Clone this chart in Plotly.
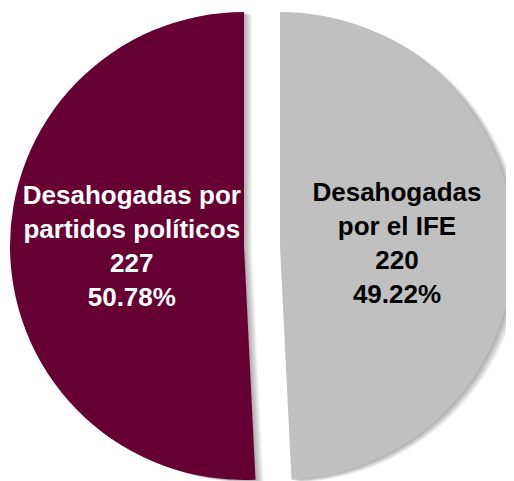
import plotly.graph_objects as go

labels = ["Desahogadas<br>por el IFE", "Desahogadas por<br>partidos políticos"]
values = [220, 227]
colors = ["#C0C0C0", "#660033"]
text_colors = ["#000000", "#FFFFFF"]

W, H = 514, 481
R = 234
CY = 238
centers_x = [272, 236]  # gray, maroon (figure px; page has an 8px body margin)

fig = go.Figure()


def slice_trace(i, dx, dy, color, with_text):
    cx = centers_x[i] + dx
    cy = CY + dy
    x0 = max(cx - R, 0) / W
    x1 = min(cx + R, W) / W
    y0 = 1 - (cy + R) / H
    y1 = 1 - (cy - R) / H
    mcolors = ["rgba(0,0,0,0)"] * 2
    mcolors[i] = color
    tt = [""] * 2
    if with_text:
        tt[i] = "<b>%{label}<br>%{value}<br>%{percent:.2%}</b>"
    return go.Pie(
        labels=labels,
        values=values,
        sort=False,
        direction="clockwise",
        rotation=0,
        marker=dict(colors=mcolors, line=dict(width=0)),
        texttemplate=tt,
        textposition="inside",
        insidetextorientation="horizontal",
        insidetextfont=dict(family="Liberation Sans, Arial, sans-serif", size=26,
                            color=text_colors),
        hoverinfo="skip",
        domain=dict(x=[x0, x1], y=[max(y0, 0), min(y1, 1)]),
        showlegend=False,
    )


# soft shadow layers (drawn first)
for i in range(2):
    for k in range(1, 9):
        fig.add_trace(slice_trace(i, k, k * 0.35, "rgba(0,0,0,0.045)", False))

for i in range(2):
    fig.add_trace(slice_trace(i, 0, 0, colors[i], True))

fig.update_layout(
    width=W, height=H,
    margin=dict(l=0, r=0, t=0, b=0),
    paper_bgcolor="white",
    plot_bgcolor="white",
    showlegend=False,
)

fig.write_html("out.html")
